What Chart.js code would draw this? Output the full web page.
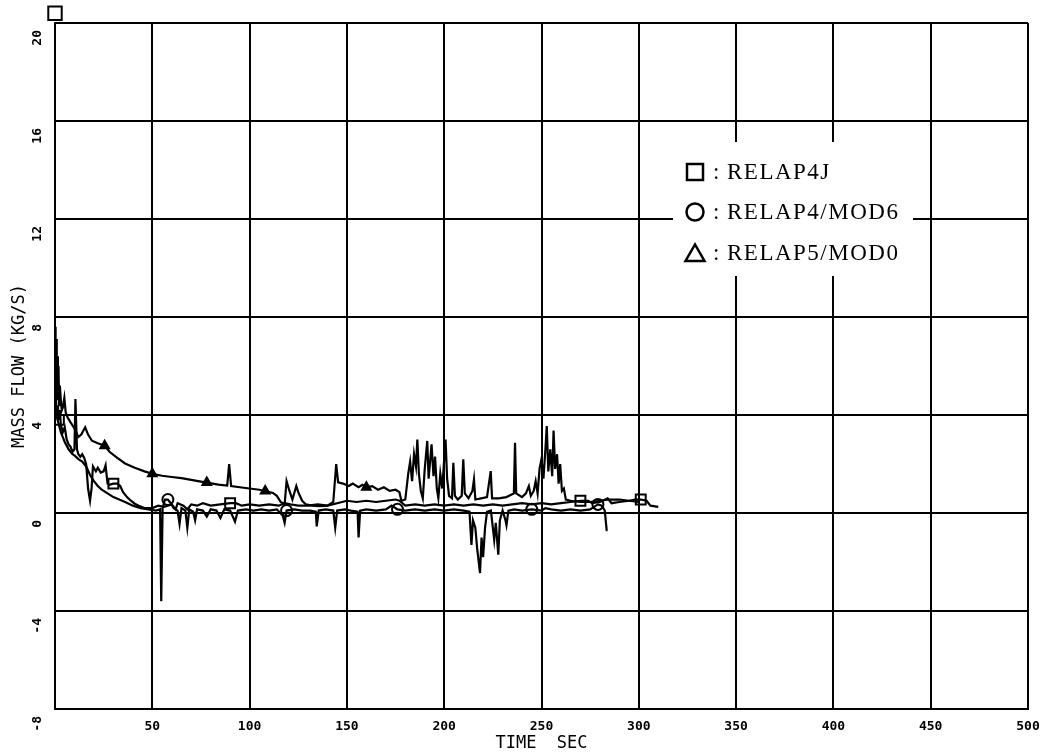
<!DOCTYPE html>
<html>
<head>
<meta charset="utf-8">
<script src="https://cdn.jsdelivr.net/npm/chart.js@4.4.1/dist/chart.umd.min.js"></script>
<style>
html,body{margin:0;padding:0;background:#fff;}
#wrap{width:1046px;height:755px;position:relative;}
</style>
</head>
<body>
<div id="wrap"><canvas id="c" width="1046" height="755"></canvas></div>
<script>
// ---------- data ----------
const seriesNames = ['RELAP4J', 'RELAP4/MOD6', 'RELAP5/MOD0'];
const xTickValues = [0, 50, 100, 150, 200, 250, 300, 350, 400, 450, 500];
const yTickValues = [-8, -4, 0, 4, 8, 12, 16, 20];
const xAxisTitle = 'TIME  SEC';
const yAxisTitle = 'MASS FLOW (KG/S)';

// RELAP5/MOD0 (triangles)
const r5Time = [0,0.3,0.6,0.9,1.2,1.5,1.8,2.1,2.5,3,3.5,4,4.8,5.5,6.5,8,10,12,13.5,15.5,17,19,22,25.5,28,32,36,41,46,50,55,60,65,70,75,78,84,88.5,89.5,90.5,95,100,105,108,112,114,116,118,119,120.5,122,124,125,127,129,132,136,140,143,144.5,145.5,148,151,153,156,158,160,163,166,169,172,175,177,178,180,181.5,182.5,183.5,184.5,185.5,186.2,187,188,189,190,191.3,192,193.5,194.5,195.3,196.2,197,198,199,200,200.7,201.5,202.5,204,204.7,205.5,207,209,209.8,210.6,212.5,214.5,215.3,216,219,222,223.9,224.6,228,232,235.8,236.4,237,240,242,243.5,244.5,246,247,248,249,250,251,252,252.7,253.5,254.5,255.5,256.2,257,258,258.8,259.6,260.5,261.5,262.5,265,270,275,280,285,290,295,300];
const r5Flow = [7.6,5.6,7.1,5.0,6.4,4.6,6.0,4.4,5.2,4.6,4.2,4.3,4.7,4.1,3.9,3.7,3.45,3.1,3.2,3.5,3.2,2.95,2.85,2.75,2.5,2.25,2.02,1.85,1.7,1.6,1.52,1.47,1.42,1.35,1.28,1.24,1.16,1.12,2.0,1.1,1.05,1.0,0.95,0.9,0.82,0.7,0.45,0.35,1.3,0.9,0.55,1.1,0.85,0.5,0.35,0.3,0.28,0.3,0.45,2.0,1.25,1.2,1.1,1.2,1.05,1.15,1.05,1.1,0.95,1.05,0.9,0.95,0.85,0.5,0.55,1.6,2.1,1.3,2.4,1.9,3.0,1.6,0.9,0.6,1.8,2.94,1.4,2.8,1.5,2.3,1.0,0.6,1.6,1.0,2.2,3.0,1.4,0.7,0.6,2.05,0.7,0.55,0.7,2.19,0.8,0.6,0.9,1.37,0.55,0.6,0.65,1.71,0.6,0.6,0.65,0.8,2.87,0.8,0.65,0.8,1.1,0.7,0.9,1.3,0.8,1.8,2.2,1.4,2.6,3.55,1.7,2.6,1.5,3.37,1.8,2.4,1.2,2.0,0.9,1.0,0.55,0.5,0.45,0.45,0.5,0.55,0.55,0.5,0.45];
const r5Marks = [25.5, 50, 78, 108, 160];

// RELAP4J (squares)
const r4jTime = [0,0.5,1,1.5,2,2.5,3,4,5,6,7,8,9,10,10.5,11.3,12,13,14,15,16,17,18,18.8,19.5,21,22,23.5,25,26,27,28,30,32,33.5,35,37,39,41,43,46,50,53,56,60,62,63,66,68,70,73,76,80,85,90,93,96,100,105,110,115,118,121,125,130,135,140,145,150,155,160,165,170,175,177,180,185,190,195,200,205,210,215,220,225,230,235,240,245,250,255,260,265,270,274,276,280,284,286,290,295,298,301,304,306,310];
const r4jFlow = [5.6,4.6,4.0,4.4,3.8,4.2,3.6,3.3,3.5,3.0,2.8,2.7,2.5,2.6,4.65,2.6,2.4,2.3,2.4,2.25,2.0,1.0,0.5,1.0,1.9,1.7,1.85,1.65,1.7,1.95,1.2,1.15,1.2,1.2,1.1,0.85,0.65,0.5,0.38,0.3,0.2,0.2,0.3,0.25,0.35,0.15,0.4,0.3,0.15,0.35,0.3,0.4,0.3,0.35,0.4,0.4,0.3,0.35,0.3,0.35,0.3,0.4,0.35,0.3,0.3,0.35,0.3,0.4,0.5,0.45,0.5,0.45,0.5,0.55,0.5,0.3,0.35,0.3,0.35,0.3,0.35,0.3,0.35,0.3,0.35,0.3,0.35,0.4,0.35,0.4,0.35,0.4,0.45,0.5,0.5,0.4,0.45,0.6,0.4,0.45,0.5,0.55,0.55,0.5,0.3,0.25];
const r4jMarks = [2, 31, 91, 270, 301];

// RELAP4/MOD6 (circles)
const r4m6Time = [0,0.5,1,2,3,4,5,6,7,8,9,10,12,14,16,18,20,22,24,27,30,33,36,40,44,48,52,54,54.6,55.3,56.5,58,59.5,61,63,64,65,67,68,69,71,72,73,76,78,80,83,85,87,90,92.5,94,98,102,106,110,114,117,118,119,123,127,131,134,134.5,135.5,139,143,144,145,149,152,155.5,156,156.8,160,165,170,173,176,180,185,190,195,200,205,210,213,214,214.8,216,217,218.4,219.2,220,221,222,224,225.7,226.5,227.8,228.6,230,231.5,232,233,236,240,245,250,252,255,260,265,270,275,279,281,282.5,283.5,284];
const r4m6Flow = [4.4,4.0,3.9,3.6,3.3,3.1,2.9,2.75,2.6,2.5,2.4,2.35,2.2,2.1,1.9,1.55,1.3,1.1,0.95,0.8,0.65,0.55,0.45,0.3,0.2,0.15,0.1,0.15,-3.6,0.2,0.55,0.55,0.4,0.2,0.1,-0.45,0.2,0.1,-0.6,0.15,0.05,-0.3,0.15,0.1,-0.15,0.15,0.1,-0.2,0.15,0.1,-0.35,0.1,0.15,0.1,0.15,0.1,0.15,-0.1,-0.4,0.1,0.15,0.1,0.1,0.05,-0.55,0.1,0.15,0.1,-0.6,0.1,0.15,0.1,0.05,-1.0,0.1,0.15,0.1,0.15,0.3,0.15,0.1,0.15,0.1,0.15,0.1,0.15,0.1,0.05,-1.3,-0.3,-0.6,-1.5,-2.45,-1.0,-1.8,-0.6,0.05,0.1,-1.1,-0.4,-1.7,-0.3,0.1,-0.3,-0.5,0.1,0.15,0.1,0.15,0.1,0.2,0.15,0.1,0.15,0.1,0.15,0.35,0.3,0.1,-0.7,-0.7];
const r4m6Marks = [57.5, 120, 175, 245, 279];

// off-scale RELAP4J starting marker above the frame
const offScaleTime = [0];
const offScaleFlow = [20.4];

// ---------- build ----------
function pts(ts, vs) { return ts.map((t, i) => ({ x: t, y: vs[i] })); }
function markIndex(ts, marks) {
  const s = new Set();
  marks.forEach(m => {
    let best = 0;
    ts.forEach((t, i) => { if (Math.abs(t - m) < Math.abs(ts[best] - m)) best = i; });
    s.add(best);
  });
  return s;
}
const r5Set = markIndex(r5Time, r5Marks);
const r4jSet = markIndex(r4jTime, r4jMarks);
const r4m6Set = markIndex(r4m6Time, r4m6Marks);

const monoFont = '"DejaVu Sans Mono", monospace';

const legendPlugin = {
  id: 'plotterLegend',
  afterDatasetsDraw(chart) {
    const ctx = chart.ctx;
    ctx.save();
    ctx.fillStyle = '#fff';
    ctx.fillRect(673, 142, 240, 134);
    ctx.strokeStyle = '#000';
    ctx.fillStyle = '#000';
    ctx.lineWidth = 2.5;
    const rows = [172, 212, 253];
    const cx = 695;
    ctx.strokeRect(cx - 8, rows[0] - 8, 16, 16);
    ctx.beginPath(); ctx.arc(cx, rows[1], 8.5, 0, Math.PI * 2); ctx.stroke();
    ctx.beginPath();
    ctx.moveTo(cx - 9.5, rows[2] + 8); ctx.lineTo(cx + 9.5, rows[2] + 8); ctx.lineTo(cx, rows[2] - 8.5); ctx.closePath(); ctx.stroke();
    ctx.font = '23px "Liberation Serif", "DejaVu Serif", serif';
    ctx.textBaseline = 'middle';
    ctx.textAlign = 'left';
    try { ctx.letterSpacing = '1.5px'; } catch (e) {}
    seriesNames.forEach((name, i) => {
      ctx.fillText(':', 713, rows[i] + 1);
      ctx.fillText(name, 727, rows[i] + 1);
    });
    try { ctx.letterSpacing = '0px'; } catch (e) {}
    ctx.restore();
  }
};

const lineBase = {
  showLine: true,
  borderColor: '#000',
  borderWidth: 2.2,
  tension: 0,
  pointBorderColor: '#000',
  pointBackgroundColor: 'rgba(255,255,255,0)',
  pointBorderWidth: 2,
  pointHoverRadius: 0
};

function noPad(s) { s.paddingLeft = 0; s.paddingRight = 0; s.paddingTop = 0; s.paddingBottom = 0; }

new Chart(document.getElementById('c'), {
  type: 'scatter',
  data: {
    datasets: [
      Object.assign({}, lineBase, {
        label: seriesNames[0],
        data: pts(r4jTime, r4jFlow),
        pointStyle: 'rect',
        pointRadius: c => r4jSet.has(c.dataIndex) ? 7 : 0
      }),
      Object.assign({}, lineBase, {
        label: seriesNames[1],
        data: pts(r4m6Time, r4m6Flow),
        pointStyle: 'circle',
        pointRadius: c => r4m6Set.has(c.dataIndex) ? 5.5 : 0
      }),
      Object.assign({}, lineBase, {
        label: seriesNames[2],
        data: pts(r5Time, r5Flow),
        pointStyle: 'triangle',
        pointBackgroundColor: '#000',
        pointRadius: c => r5Set.has(c.dataIndex) ? 5 : 0
      }),
      {
        label: 'offscale',
        data: pts(offScaleTime, offScaleFlow),
        showLine: false,
        clip: false,
        pointStyle: 'rect',
        pointRadius: 9.5,
        pointBorderColor: '#000',
        pointBackgroundColor: 'rgba(255,255,255,0)',
        pointBorderWidth: 2
      }
    ]
  },
  options: {
    responsive: false,
    animation: false,
    devicePixelRatio: 1,
    events: [],
    layout: { padding: { top: 23, right: 18, left: 0, bottom: 0 } },
    plugins: { legend: { display: false }, tooltip: { enabled: false } },
    scales: {
      x: {
        type: 'linear',
        position: 'bottom',
        min: xTickValues[0],
        max: xTickValues[xTickValues.length - 1],
        afterBuildTicks: s => { s.ticks = xTickValues.map(v => ({ value: v })); },
        afterFit: s => { s.height = 46; noPad(s); },
        ticks: {
          autoSkip: false,
          maxRotation: 0,
          padding: 10,
          color: '#000',
          font: { family: monoFont, size: 13, weight: 'bold' },
          callback: v => v === 0 ? '' : String(v)
        },
        grid: { color: '#000', lineWidth: 2, drawTicks: false },
        border: { color: '#000', width: 2 },
        title: {
          display: true,
          text: xAxisTitle,
          color: '#000',
          font: { family: monoFont, size: 17 },
          padding: { top: 0, bottom: 1 }
        }
      },
      y: {
        type: 'linear',
        min: yTickValues[0],
        max: yTickValues[yTickValues.length - 1],
        afterBuildTicks: s => { s.ticks = yTickValues.map(v => ({ value: v })); },
        afterFit: s => { s.width = 55; noPad(s); },
        ticks: {
          autoSkip: false,
          minRotation: 90,
          maxRotation: 90,
          labelOffset: 7,
          padding: 17,
          color: '#000',
          font: { family: monoFont, size: 13, weight: 'bold' },
          callback: v => String(v)
        },
        grid: { color: '#000', lineWidth: 2, drawTicks: false },
        border: { color: '#000', width: 2 },
        title: {
          display: true,
          text: yAxisTitle,
          color: '#000',
          font: { family: monoFont, size: 17 },
          padding: { top: 9, bottom: 0 }
        }
      }
    }
  },
  plugins: [legendPlugin]
});
</script>
</body>
</html>
